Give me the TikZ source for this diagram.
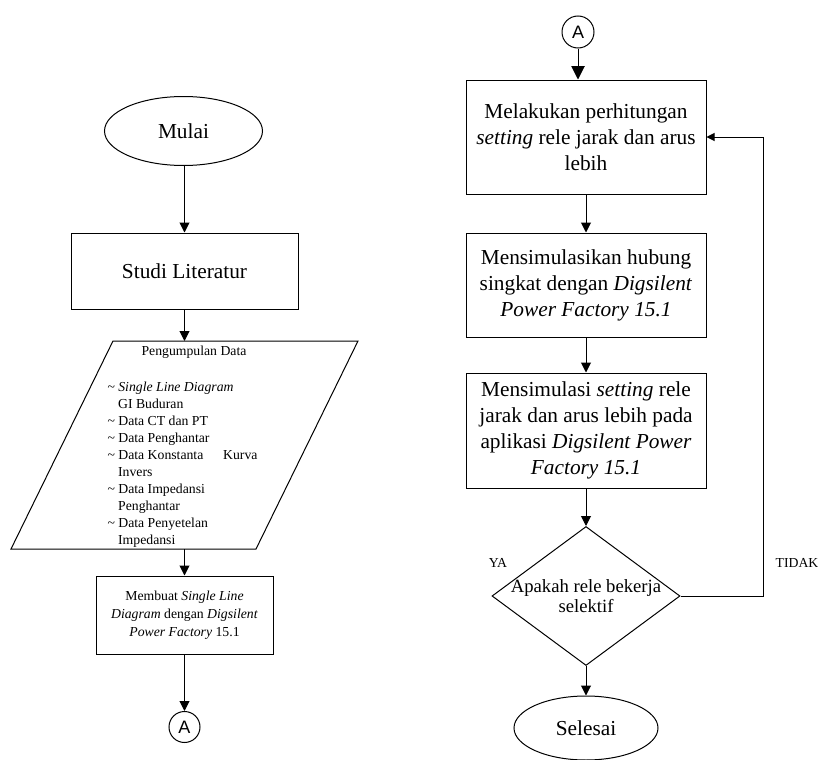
\documentclass[tikz,border=0pt]{standalone}
\usepackage{fontspec}
\setmainfont{Liberation Serif}
\newfontfamily\sansA{Liberation Sans}
\usetikzlibrary{shapes.geometric,arrows.meta}
\begin{document}
\begin{tikzpicture}[x=0.75pt,y=-0.75pt,line width=0.75pt,
  big/.style={font=\fontsize{16}{19.5}\selectfont},
  small/.style={font=\fontsize{10.3}{12.75}\selectfont},
  procbox/.style={draw,rectangle,inner sep=0pt,align=center},
  term/.style={draw,ellipse,inner sep=0pt,big},
  conn/.style={draw,circle,inner sep=0pt,font=\sansA\fontsize{13.5}{13.5}\selectfont},
  arr/.style={-{Triangle[width=7.5pt,length=7.5pt]}},
  arrbig/.style={-{Triangle[width=10pt,length=10pt]}},
  arrsm/.style={-{Triangle[width=6pt,length=6pt]}},
  decision/.style={draw,diamond,aspect=1.343,inner xsep=-15pt,inner ysep=-4pt,
    minimum width=141pt,minimum height=104.25pt,align=center,
    font=\fontsize{14}{15.5}\selectfont}
]
\useasboundingbox (0,0) rectangle (819,760);

% ---------- left column ----------
\node[term,minimum width=118.5pt,minimum height=51.75pt] (mulai) at (183.5,131) {Mulai};
\node[procbox,big,minimum width=170.25pt,minimum height=57pt] (studi) at (184.5,271) {Studi Literatur};

\coordinate (pTL) at (113,341);
\coordinate (pTR) at (358,341);
\coordinate (pBR) at (256,549);
\coordinate (pBL) at (11,549);
\draw (pTL) -- (pTR) -- (pBR) -- (pBL) -- cycle;
\coordinate (ptop) at (184.5,341);
\coordinate (pbot) at (184.5,549);

\node[small,inner sep=0pt] (datatitle) at (194,352) {Pengumpulan Data};
\node[small,inner sep=0pt,align=left,anchor=north west] (datalist) at (107,381)
 {\textasciitilde{} \textit{Single Line Diagram}\\
  \hspace*{8pt}GI Buduran\\
  \textasciitilde{} Data CT dan PT\\
  \textasciitilde{} Data Penghantar\\
  \hbox to 112.5pt{\textasciitilde{} Data Konstanta\hfill Kurva}\\
  \hspace*{8pt}Invers\\
  \textasciitilde{} Data Impedansi\\
  \hspace*{8pt}Penghantar\\
  \textasciitilde{} Data Penyetelan\\
  \hspace*{8pt}Impedansi};

\node[procbox,font=\fontsize{10.3}{13.5}\selectfont,minimum width=132.75pt,minimum height=58.5pt] (membuat) at (184.5,615)
 {Membuat \textit{Single Line}\\\textit{Diagram} dengan \textit{Digsilent}\\\textit{Power Factory} 15.1};

\node[conn,minimum size=23.25pt] (A1) at (184.5,727) {A};

\draw[arr] (mulai.south -| studi.north) -- (studi.north);
\draw[arr] (studi.south) -- (ptop);
\draw[arr] (pbot) -- (membuat.north);
\draw[arr] (membuat.south) -- (A1.north);

% ---------- right column ----------
\node[conn,minimum size=24pt] (A2) at (578,32) {A};
\node[procbox,big,minimum width=180pt,minimum height=85.5pt] (box1) at (586,137)
 {Melakukan perhitungan\\\textit{setting} rele jarak dan arus\\lebih};
\node[procbox,big,minimum width=180pt,minimum height=78pt] (box2) at (586,285)
 {Mensimulasikan hubung\\singkat dengan \textit{Digsilent}\\\textit{Power Factory 15.1}};
\node[procbox,big,minimum width=180pt,minimum height=86.25pt] (box3) at (586,430.5)
 {Mensimulasi \textit{setting} rele\\jarak dan arus lebih pada\\aplikasi \textit{Digsilent Power}\\\textit{Factory 15.1}};
\node[decision] (dec) at (586,596) {Apakah rele bekerja\\selektif};
\node[term,minimum width=108pt,minimum height=48pt] (selesai) at (586,728) {Selesai};

\node[small,inner sep=0pt] (ya) at (498,563) {YA};
\node[small,inner sep=0pt] (tidak) at (797,563) {TIDAK};

\draw[arrbig] (A2.south) -- (A2.south |- box1.north);
\draw[arr] (box1.south) -- (box2.north);
\draw[arr] (box2.south) -- (box3.north);
\draw[arr] (box3.south) -- (dec.north);
\draw[arr] (dec.south) -- (selesai.north);
\coordinate (fb) at (763,0);
\draw[arrsm] (dec.east) -- (dec.east -| fb) -- (box1.east -| fb) -- (box1.east);
\end{tikzpicture}
\end{document}
